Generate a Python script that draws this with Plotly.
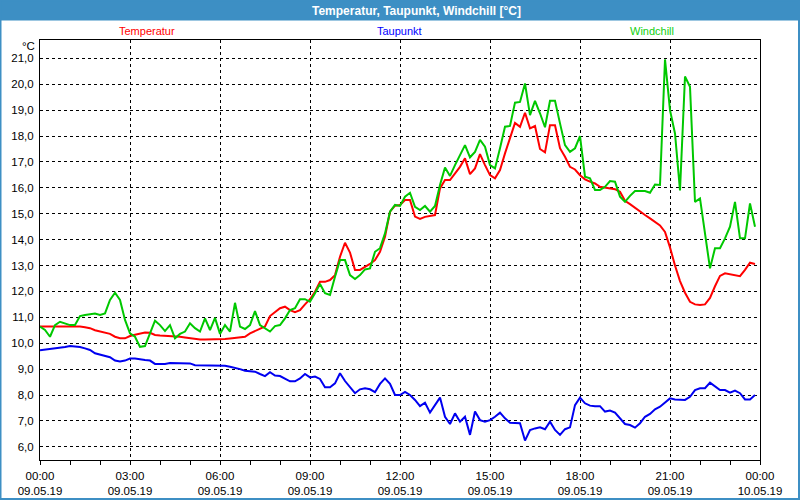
import pandas as pd
import plotly.graph_objects as go

# 10-minute samples, 09.05.19 00:00 .. 23:50
times = pd.date_range("2019-05-09 00:00", periods=144, freq="10min")

temperatur = [
    10.65, 10.65, 10.65, 10.65, 10.65, 10.65,
    10.65, 10.65, 10.65, 10.62, 10.58, 10.5,
    10.45, 10.4, 10.36, 10.25, 10.19, 10.19,
    10.28, 10.33, 10.38, 10.41, 10.4, 10.32,
    10.3, 10.29, 10.27, 10.26, 10.25, 10.22,
    10.19, 10.16, 10.14, 10.14, 10.14, 10.14,
    10.14, 10.16, 10.18, 10.2, 10.21, 10.25,
    10.38, 10.48, 10.55, 10.65, 11.05, 11.2,
    11.35, 11.41, 11.28, 11.2, 11.28, 11.5,
    11.7, 11.99, 12.37, 12.37, 12.44, 12.63,
    13.34, 13.88, 13.5, 12.83, 12.83, 12.95,
    13.06, 13.21, 13.53, 14.11, 15.08, 15.31,
    15.34, 15.53, 15.53, 14.89, 14.8, 14.88,
    14.92, 14.95, 15.98, 16.3, 16.3, 16.56,
    16.81, 17.14, 16.53, 16.75, 17.3, 16.88,
    16.49, 16.37, 16.69, 17.33, 17.91, 18.51,
    18.36, 18.9, 18.3, 18.39, 17.5, 17.37,
    18.42, 18.42, 17.53, 17.2, 16.81, 16.71,
    16.49, 16.33, 16.24, 16.17, 16.04, 16.0,
    15.98, 15.95, 15.85, 15.5, 15.37, 15.22,
    15.08, 14.95, 14.82, 14.7, 14.55, 14.3,
    13.7, 13.0, 12.4, 11.95, 11.6, 11.5,
    11.48, 11.5, 11.75, 12.2, 12.6, 12.7,
    12.67, 12.63, 12.59, 12.83, 13.11, 13.06,
]

taupunkt = [
    9.73, 9.75, 9.77, 9.8, 9.82, 9.85,
    9.89, 9.87, 9.85, 9.8, 9.74, 9.61,
    9.55, 9.51, 9.46, 9.33, 9.29, 9.33,
    9.41, 9.41, 9.37, 9.35, 9.33, 9.2,
    9.2, 9.2, 9.24, 9.24, 9.23, 9.22,
    9.22, 9.15, 9.15, 9.15, 9.15, 9.15,
    9.15, 9.13, 9.09, 9.05, 9.0, 8.94,
    8.92, 8.9, 8.81, 8.73, 8.88, 8.75,
    8.73, 8.64, 8.53, 8.53, 8.64, 8.81,
    8.68, 8.71, 8.62, 8.3, 8.3, 8.45,
    8.84, 8.54, 8.32, 8.07, 8.22, 8.26,
    8.22, 8.11, 8.43, 8.64, 8.43, 8.0,
    8.0, 8.12, 8.0, 7.81, 7.57, 7.7,
    7.32, 7.61, 7.9, 7.16, 6.88, 7.29,
    6.97, 7.16, 6.46, 7.36, 7.03, 6.97,
    7.03, 7.16, 7.32, 7.1, 6.93, 6.92,
    6.91, 6.24, 6.65, 6.71, 6.75, 6.68,
    6.97, 6.65, 6.46, 6.68, 6.75, 7.61,
    7.9, 7.68, 7.59, 7.57, 7.57, 7.36,
    7.4, 7.32, 7.1, 6.88, 6.84, 6.74,
    6.91, 7.16, 7.27, 7.45, 7.55, 7.7,
    7.87, 7.83, 7.82, 7.81, 7.93, 8.19,
    8.26, 8.26, 8.48, 8.32, 8.19, 8.19,
    8.09, 8.17, 8.07, 7.83, 7.83, 8.0,
]

windchill = [
    10.64, 10.51, 10.25, 10.7, 10.83, 10.77,
    10.7, 10.7, 11.05, 11.09, 11.13, 11.15,
    11.09, 11.15, 11.67, 11.95, 11.67, 10.9,
    10.38, 10.25, 9.86, 9.89, 10.38, 10.87,
    10.7, 10.47, 10.7, 10.19, 10.36, 10.45,
    10.77, 10.58, 10.45, 10.96, 10.51, 10.98,
    10.36, 10.7, 10.45, 11.56, 10.64, 10.55,
    10.7, 11.24, 10.7, 10.58, 10.45, 10.66,
    10.7, 10.96, 11.28, 11.35, 11.7, 11.7,
    11.6, 11.93, 12.29, 11.93, 11.86, 12.57,
    13.21, 13.21, 12.63, 12.48, 12.63, 12.85,
    12.89, 13.53, 13.67, 14.24, 15.08, 15.34,
    15.3, 15.66, 15.81, 15.27, 15.14, 15.3,
    15.08, 15.3, 16.11, 16.79, 16.46, 16.88,
    17.27, 17.65, 17.18, 17.39, 17.85, 17.59,
    16.88, 16.75, 17.53, 18.36, 18.39, 19.29,
    19.32, 20.03, 18.81, 19.36, 18.88, 18.34,
    19.36, 19.36, 18.49, 17.65, 17.39, 17.53,
    18.0, 16.43, 16.37, 15.92, 15.92, 16.04,
    16.26, 16.24, 15.66, 15.46, 15.69, 15.88,
    15.88, 15.88, 15.81, 16.13, 16.11, 20.96,
    19.0, 18.1, 15.9, 20.3, 19.9, 15.46,
    15.59, 14.2, 12.89, 13.67, 13.67, 14.05,
    14.5, 15.46, 14.05, 14.05, 15.4, 14.5,
]

series_names = ["Temperatur", "Taupunkt", "Windchill"]
series_colors = ["#ff0000", "#0000f0", "#00c800"]
label_colors = ["#ff0000", "#0000ff", "#10d010"]
title_text = "Temperatur, Taupunkt, Windchill [°C]"
unit_text = "°C"

FONT = "Liberation Sans"
BAR = "#3d8fc4"

fig = go.Figure()
for name, vals, col in zip(series_names, [temperatur, taupunkt, windchill], series_colors):
    fig.add_trace(go.Scatter(x=times, y=vals, mode="lines", name=name,
                             line=dict(color=col, width=2), hoverinfo="skip"))

W, H = 800, 500
L, R, T, B = 40, 40, 40, 40
pw, ph = W - L - R, H - T - B


def px(xp):
    return (xp - L) / pw


def py(yp):
    return (H - B - yp) / ph


shapes = [
    dict(type="rect", xref="paper", yref="paper", x0=px(0), x1=px(800), y0=py(20.5), y1=py(0),
         fillcolor=BAR, line=dict(width=0), layer="below"),
    dict(type="rect", xref="paper", yref="paper", x0=px(0.5), x1=px(799), y0=py(499), y1=py(0.5),
         fillcolor="rgba(0,0,0,0)", line=dict(color=BAR, width=2)),
]

annotations = [
    dict(text=f"<b>{title_text}</b>", xref="paper", yref="paper", x=px(416), y=py(10.5),
         xanchor="center", yanchor="middle", showarrow=False,
         font=dict(family=FONT, size=12, color="white")),
    dict(text=unit_text, xref="paper", yref="paper", x=px(37), y=py(46),
         xanchor="right", yanchor="middle", showarrow=False,
         font=dict(family=FONT, size=11.5, color="black")),
]
for name, xc, col in zip(series_names, [147, 399, 652], label_colors):
    annotations.append(dict(text=name, xref="paper", yref="paper", x=px(xc), y=py(31),
                            xanchor="center", yanchor="middle", showarrow=False,
                            font=dict(family=FONT, size=11, color=col)))

fig.update_layout(
    width=W, height=H,
    margin=dict(l=L, r=R, t=T, b=B, pad=0, autoexpand=False),
    paper_bgcolor="white", plot_bgcolor="white",
    showlegend=False,
    separators=", ",
    font=dict(family=FONT, size=11.5, color="black"),
    shapes=shapes,
    annotations=annotations,
    xaxis=dict(
        type="date",
        automargin=False,
        range=["2019-05-09 00:00", "2019-05-10 00:00"],
        dtick=3 * 3600000,
        tick0="2019-05-09 00:00",
        tickformat="%H:%M<br>%d.%m.%y",
        ticks="outside", ticklen=4, tickcolor="black", tickwidth=1,
        ticklabelstandoff=1,
        minor=dict(dtick=3600000, ticks="outside", ticklen=4, tickcolor="black", showgrid=False),
        showgrid=True, gridcolor="black", griddash="dot", gridwidth=1,
        showline=True, linecolor="black", linewidth=1, mirror=True,
        zeroline=False, fixedrange=True,
        tickfont=dict(family=FONT, size=11.5, color="black"),
    ),
    yaxis=dict(
        automargin=False,
        range=[5.49, 21.71],
        dtick=1, tick0=0,
        tickformat=".1f",
        ticks="", ticklabelstandoff=3,
        showgrid=True, gridcolor="black", griddash="dot", gridwidth=1,
        showline=True, linecolor="black", linewidth=1, mirror=True,
        zeroline=False, fixedrange=True,
        tickfont=dict(family=FONT, size=11.5, color="black"),
    ),
)

fig.write_html("out.html")
